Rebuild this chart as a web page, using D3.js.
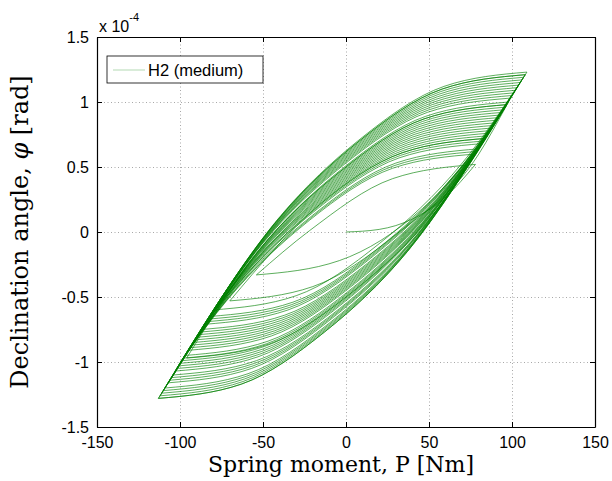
<!DOCTYPE html>
<html>
<head>
<meta charset="utf-8">
<script src="https://cdn.jsdelivr.net/npm/d3@7"></script>
<style>
  body { margin: 0; background: #fff; }
  svg { display: block; }
</style>
</head>
<body>
<script>
// tick values and labels
const xTicks = [-150, -100, -50, 0, 50, 100, 150];
const yTicks = [-1.5, -1, -0.5, 0, 0.5, 1, 1.5];
const xTickLabels = ["-150", "-100", "-50", "0", "50", "100", "150"];
const yTickLabels = ["-1.5", "-1", "-0.5", "0", "0.5", "1", "1.5"];
const seriesName = "H2 (medium)";

// [P in Nm, phi in 1e-4 rad]
const virgin = [[0, 0], [20, 0.02], [40, 0.10], [60, 0.27], [78, 0.52]];

// descending branches (right turning point -> left turning point)
const upperBranches = [
  [[78, 0.52], [28, 0.41], [-22, 0.01], [-54, -0.33]],
  [[84, 0.72], [34, 0.61], [-16, 0.21], [-70, -0.53]],
  [[97, 0.98], [47, 0.87], [-3, 0.47], [-53, -0.15], [-96, -0.97]],
  [[105, 1.15], [55, 1.04], [5, 0.64], [-45, 0.02], [-112, -1.26]],
  [[92, 0.88], [42, 0.77], [-8, 0.37], [-58, -0.25], [-88, -0.77]],
  [[108, 1.21], [58, 1.10], [8, 0.70], [-42, 0.08], [-103, -1.07]],
  [[84, 0.72], [34, 0.61], [-16, 0.21], [-66, -0.41], [-82, -0.65]],
  [[99, 1.03], [49, 0.92], [-1, 0.52], [-51, -0.10], [-110, -1.22]],
  [[80, 0.64], [30, 0.53], [-20, 0.13], [-70, -0.49], [-99, -0.99]],
  [[103, 1.11], [53, 1.00], [3, 0.60], [-47, -0.02], [-91, -0.83]],
  [[95, 0.94], [45, 0.83], [-5, 0.43], [-55, -0.19], [-113, -1.28]],
  [[88, 0.80], [38, 0.69], [-12, 0.29], [-62, -0.33], [-85, -0.71]],
  [[109, 1.23], [59, 1.12], [9, 0.72], [-41, 0.10], [-105, -1.12]],
  [[82, 0.68], [32, 0.57], [-18, 0.17], [-68, -0.45], [-94, -0.89]],
  [[101, 1.07], [51, 0.96], [1, 0.56], [-49, -0.06], [-101, -1.03]],
  [[90, 0.84], [40, 0.73], [-10, 0.33], [-60, -0.29], [-80, -0.60]],
  [[106, 1.17], [56, 1.06], [6, 0.66], [-44, 0.04], [-109, -1.20]],
  [[78, 0.60], [28, 0.49], [-22, 0.09], [-72, -0.53], [-97, -0.95]],
  [[97, 0.98], [47, 0.87], [-3, 0.47], [-53, -0.15], [-89, -0.79]],
  [[93, 0.90], [43, 0.79], [-7, 0.39], [-57, -0.23], [-106, -1.14]],
  [[86, 0.76], [36, 0.65], [-14, 0.25], [-64, -0.37], [-93, -0.87]],
  [[104, 1.13], [54, 1.02], [4, 0.62], [-46, 0.0], [-111, -1.24]],
  [[91, 0.86], [41, 0.75], [-9, 0.35], [-59, -0.27], [-84, -0.69]],
  [[107, 1.19], [57, 1.08], [7, 0.68], [-43, 0.06], [-102, -1.05]],
  [[83, 0.70], [33, 0.59], [-17, 0.19], [-67, -0.43], [-98, -0.97]],
  [[100, 1.05], [50, 0.94], [0, 0.54], [-50, -0.08], [-87, -0.75]],
  [[96, 0.96], [46, 0.85], [-4, 0.45], [-54, -0.17], [-107, -1.16]],
  [[79, 0.62], [29, 0.51], [-21, 0.11], [-71, -0.51], [-92, -0.85]],
  [[102, 1.09], [52, 0.98], [2, 0.58], [-48, -0.04], [-104, -1.10]],
  [[89, 0.82], [39, 0.71], [-11, 0.31], [-61, -0.31], [-83, -0.67]],
  [[108, 1.21], [58, 1.10], [8, 0.70], [-42, 0.08], [-100, -1.01]],
  [[85, 0.74], [35, 0.63], [-15, 0.23], [-65, -0.39], [-95, -0.91]],
  [[98, 1.00], [48, 0.89], [-2, 0.49], [-52, -0.13], [-113, -1.28]],
  [[94, 0.92], [44, 0.81], [-6, 0.41], [-56, -0.21], [-90, -0.81]],
  [[87, 0.78], [37, 0.67], [-13, 0.27], [-63, -0.35], [-108, -1.18]]
];

// ascending branches (left turning point -> right turning point)
const lowerBranches = [
  [[-54, -0.33], [-4, -0.22], [46, 0.18], [84, 0.72]],
  [[-70, -0.53], [-20, -0.42], [30, -0.02], [80, 0.60], [97, 0.98]],
  [[-96, -0.97], [-46, -0.86], [4, -0.46], [54, 0.16], [105, 1.15]],
  [[-112, -1.26], [-62, -1.15], [-12, -0.75], [38, -0.13], [92, 0.88]],
  [[-88, -0.77], [-38, -0.66], [12, -0.26], [62, 0.36], [108, 1.21]],
  [[-103, -1.07], [-53, -0.96], [-3, -0.56], [47, 0.06], [84, 0.72]],
  [[-82, -0.65], [-32, -0.54], [18, -0.14], [68, 0.48], [99, 1.03]],
  [[-110, -1.22], [-60, -1.11], [-10, -0.71], [40, -0.09], [80, 0.64]],
  [[-99, -0.99], [-49, -0.88], [1, -0.48], [51, 0.14], [103, 1.11]],
  [[-91, -0.83], [-41, -0.72], [9, -0.32], [59, 0.30], [95, 0.94]],
  [[-113, -1.28], [-63, -1.17], [-13, -0.77], [37, -0.15], [88, 0.80]],
  [[-85, -0.71], [-35, -0.60], [15, -0.20], [65, 0.42], [109, 1.23]],
  [[-105, -1.12], [-55, -1.01], [-5, -0.61], [45, 0.01], [82, 0.68]],
  [[-94, -0.89], [-44, -0.78], [6, -0.38], [56, 0.24], [101, 1.07]],
  [[-101, -1.03], [-51, -0.92], [-1, -0.52], [49, 0.10], [90, 0.84]],
  [[-80, -0.60], [-30, -0.49], [20, -0.09], [70, 0.53], [106, 1.17]],
  [[-109, -1.20], [-59, -1.09], [-9, -0.69], [41, -0.07], [78, 0.60]],
  [[-97, -0.95], [-47, -0.84], [3, -0.44], [53, 0.18], [97, 0.98]],
  [[-89, -0.79], [-39, -0.68], [11, -0.28], [61, 0.34], [93, 0.90]],
  [[-106, -1.14], [-56, -1.03], [-6, -0.63], [44, -0.01], [86, 0.76]],
  [[-93, -0.87], [-43, -0.76], [7, -0.36], [57, 0.26], [104, 1.13]],
  [[-111, -1.24], [-61, -1.13], [-11, -0.73], [39, -0.11], [91, 0.86]],
  [[-84, -0.69], [-34, -0.58], [16, -0.18], [66, 0.44], [107, 1.19]],
  [[-102, -1.05], [-52, -0.94], [-2, -0.54], [48, 0.08], [83, 0.70]],
  [[-98, -0.97], [-48, -0.86], [2, -0.46], [52, 0.16], [100, 1.05]],
  [[-87, -0.75], [-37, -0.64], [13, -0.24], [63, 0.38], [96, 0.96]],
  [[-107, -1.16], [-57, -1.05], [-7, -0.65], [43, -0.03], [79, 0.62]],
  [[-92, -0.85], [-42, -0.74], [8, -0.34], [58, 0.28], [102, 1.09]],
  [[-104, -1.10], [-54, -0.99], [-4, -0.59], [46, 0.03], [89, 0.82]],
  [[-83, -0.67], [-33, -0.56], [17, -0.16], [67, 0.46], [108, 1.21]],
  [[-100, -1.01], [-50, -0.90], [0, -0.50], [50, 0.12], [85, 0.74]],
  [[-95, -0.91], [-45, -0.80], [5, -0.40], [55, 0.22], [98, 1.00]],
  [[-113, -1.28], [-63, -1.17], [-13, -0.77], [37, -0.15], [94, 0.92]],
  [[-90, -0.81], [-40, -0.70], [10, -0.30], [60, 0.32], [87, 0.78]]
];

const width = 612, height = 481;
const margin = {top: 37, right: 17, bottom: 54, left: 97};

const x = d3.scaleLinear([-150, 150], [margin.left, width - margin.right]);
const y = d3.scaleLinear([-1.5, 1.5], [height - margin.bottom, margin.top]);
const plotH = y(-1.5) - y(1.5);
const plotW = x(150) - x(-150);

const svg = d3.select("body").append("svg")
    .attr("width", width)
    .attr("height", height)
    .attr("viewBox", [0, 0, width, height]);

const sans = "'Liberation Sans', Arial, Helvetica, sans-serif";
const serif = "'DejaVu Serif', 'Liberation Serif', serif";

// dotted grid
svg.append("g")
    .attr("transform", `translate(0,${y(-1.5)})`)
    .call(d3.axisBottom(x).tickValues(xTicks.slice(1, -1)).tickSize(-plotH).tickFormat(""))
    .call(g => g.select(".domain").remove())
    .call(g => g.selectAll("line").attr("stroke", "#a8a8a8").attr("stroke-dasharray", "1,2.5"));

svg.append("g")
    .attr("transform", `translate(${x(-150)},0)`)
    .call(d3.axisLeft(y).tickValues(yTicks.slice(1, -1)).tickSize(-plotW).tickFormat(""))
    .call(g => g.select(".domain").remove())
    .call(g => g.selectAll("line").attr("stroke", "#a8a8a8").attr("stroke-dasharray", "1,2.5"));

// curves
const line = d3.line()
    .x(d => x(d[0]))
    .y(d => y(d[1]))
    .curve(d3.curveMonotoneX);

const curves = [virgin, ...upperBranches, ...lowerBranches];

svg.append("g")
  .selectAll("path")
  .data(curves)
  .join("path")
    .attr("fill", "none")
    .attr("stroke", "#008000")
    .attr("stroke-width", 0.8)
    .attr("stroke-opacity", 0.8)
    .attr("d", line);

// axes with inward ticks on all four sides
const tickLen = 5;
svg.append("g")
    .attr("transform", `translate(0,${y(-1.5)})`)
    .call(d3.axisBottom(x).tickValues(xTicks).tickSizeInner(-tickLen).tickSizeOuter(0)
        .tickPadding(10).tickFormat((d, i) => xTickLabels[i]))
    .call(g => g.selectAll("text").attr("font-family", sans).attr("font-size", 16).attr("fill", "#000"));

svg.append("g")
    .attr("transform", `translate(0,${y(1.5)})`)
    .call(d3.axisTop(x).tickValues(xTicks).tickSizeInner(-tickLen).tickSizeOuter(0).tickFormat(""));

svg.append("g")
    .attr("transform", `translate(${x(-150)},0)`)
    .call(d3.axisLeft(y).tickValues(yTicks).tickSizeInner(-tickLen).tickSizeOuter(0)
        .tickPadding(8).tickFormat((d, i) => yTickLabels[i]))
    .call(g => g.selectAll("text").attr("font-family", sans).attr("font-size", 16).attr("fill", "#000"));

svg.append("g")
    .attr("transform", `translate(${x(150)},0)`)
    .call(d3.axisRight(y).tickValues(yTicks).tickSizeInner(-tickLen).tickSizeOuter(0).tickFormat(""));

svg.selectAll(".domain").attr("stroke", "#000").attr("stroke-width", 1.2);

// exponent label
const expo = svg.append("text")
    .attr("x", x(-150) + 2)
    .attr("y", y(1.5) - 5)
    .attr("font-family", sans)
    .attr("font-size", 16);
expo.append("tspan").text("x 10");
expo.append("tspan").attr("font-size", 11).attr("dy", -11).text("-4");

// legend
const lg = svg.append("g").attr("transform", "translate(107,56)");
lg.append("rect")
    .attr("width", 156).attr("height", 27)
    .attr("fill", "#fff").attr("stroke", "#000").attr("stroke-width", 0.8);
lg.append("line")
    .attr("x1", 6).attr("x2", 38).attr("y1", 14).attr("y2", 14)
    .attr("stroke", "#008000").attr("stroke-width", 0.6).attr("stroke-opacity", 0.5);
lg.append("text")
    .attr("x", 41).attr("y", 20)
    .attr("font-family", sans).attr("font-size", 16.5)
    .text(seriesName);

// axis titles
svg.append("text")
    .attr("x", 341)
    .attr("y", 472)
    .attr("text-anchor", "middle")
    .attr("font-family", serif)
    .attr("font-size", 22)
    .text("Spring moment, P [Nm]");

const yl = svg.append("text")
    .attr("transform", `translate(28,${y(0)}) rotate(-90)`)
    .attr("text-anchor", "middle")
    .attr("font-family", serif)
    .attr("font-size", 24);
yl.append("tspan").text("Declination angle, ");
yl.append("tspan").attr("font-style", "italic").text("φ");
yl.append("tspan").text(" [rad]");
</script>
</body>
</html>
